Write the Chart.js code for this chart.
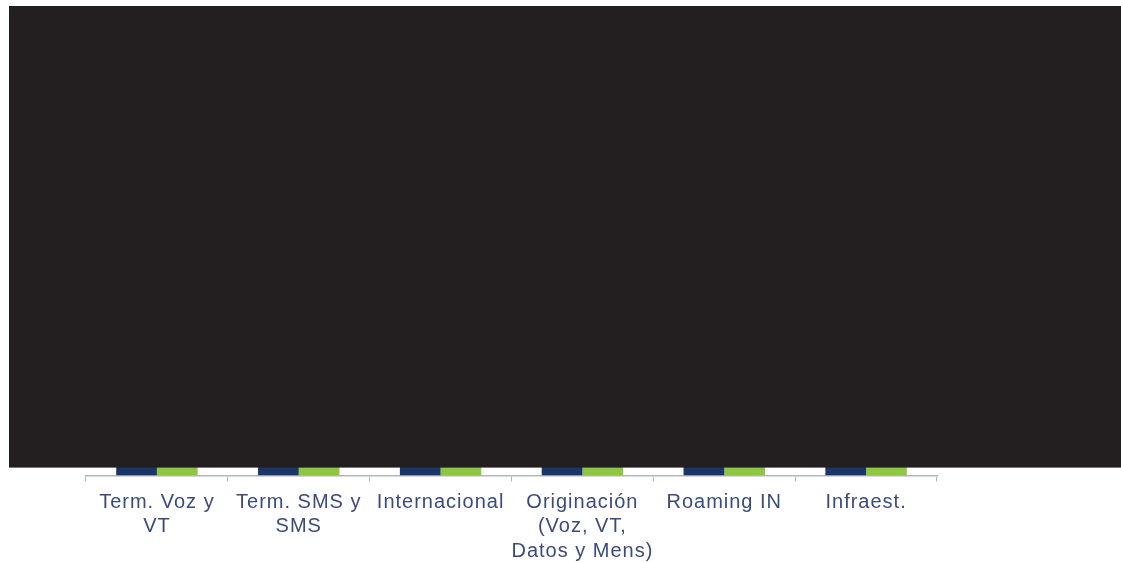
<!DOCTYPE html>
<html>
<head>
<meta charset="utf-8">
<script src="https://cdn.jsdelivr.net/npm/chart.js@4/dist/chart.umd.min.js"></script>
<style>
  html, body { margin: 0; padding: 0; background: #fff; }
  #wrap { width: 1121px; height: 562px; }
</style>
</head>
<body>
<div id="wrap"><canvas id="chart" width="1121" height="562"></canvas></div>
<script>
// categories (multi-line labels as shown under the axis)
const categories = [
    ['Term. Voz y', 'VT'],
    ['Term. SMS y', 'SMS'],
    ['Internacional'],
    ['Originación', '(Voz, VT,', 'Datos y Mens)'],
    ['Roaming IN'],
    ['Infraest.']
];
// both series are hidden above the axis by the dark block, values are estimates
const seriesA = [60, 55, 50, 58, 45, 40];
const seriesB = [62, 57, 52, 60, 47, 42];

// wider letter spacing for the axis text, like the original
const spacing = {
    id: 'spacing',
    beforeDraw(chart) {
        chart.ctx.letterSpacing = '1px';
    }
};

// dark block that covers the upper part of the picture
const coverBlock = {
    id: 'coverBlock',
    afterDraw(chart) {
        const c = chart.ctx;
        c.save();
        c.fillStyle = '#231f20';
        c.fillRect(9, 6, chart.width - 9, chart.chartArea.bottom - 8 - 6);
        c.restore();
    }
};

const ctx = document.getElementById('chart').getContext('2d');
new Chart(ctx, {
    type: 'bar',
    data: {
        labels: categories,
        datasets: [
            { label: 'A', data: seriesA, backgroundColor: '#1a3568', barPercentage: 1, categoryPercentage: 0.574 },
            { label: 'B', data: seriesB, backgroundColor: '#8dc63f', barPercentage: 1, categoryPercentage: 0.574 }
        ]
    },
    options: {
        responsive: false,
        animation: false,
        layout: { padding: { left: 86, right: 184, top: 20, bottom: -10 } },
        plugins: {
            legend: { display: false },
            tooltip: { enabled: false }
        },
        scales: {
            y: { display: false, min: 0, max: 65 },
            x: {
                grid: { drawOnChartArea: false, tickLength: 6, color: '#b4b4bc', offset: true },
                border: { color: '#b4b4bc', width: 1.5 },
                ticks: {
                    color: '#3a4b7c',
                    font: { family: 'Liberation Sans, Arial', size: 20, lineHeight: 1.24 },
                    padding: 8,
                    maxRotation: 0,
                    minRotation: 0,
                    autoSkip: false
                }
            }
        }
    },
    plugins: [spacing, coverBlock]
});
</script>
</body>
</html>
